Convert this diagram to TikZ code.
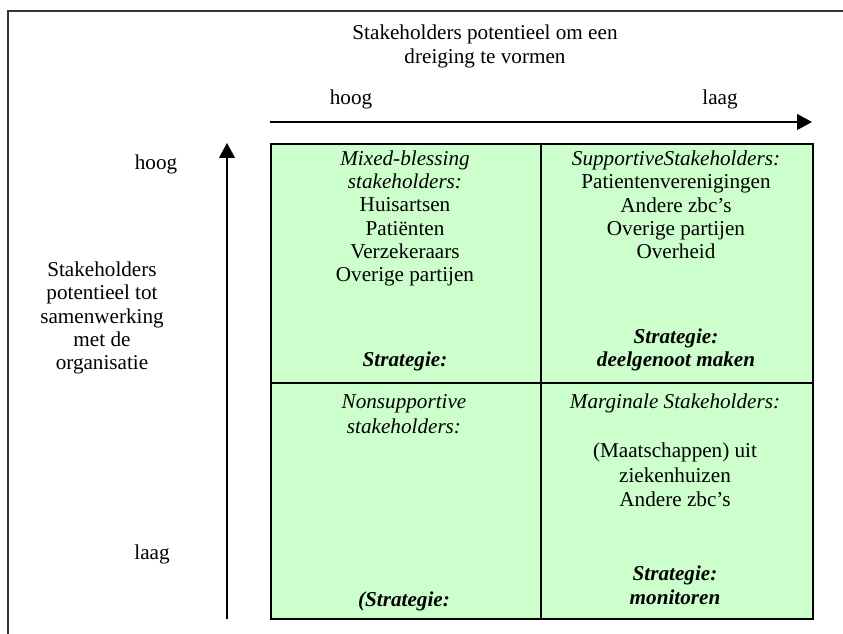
\documentclass[tikz,border=0pt]{standalone}
\usepackage{fontspec}
\setmainfont{Liberation Serif}
\usetikzlibrary{arrows.meta}
\begin{document}
\begin{tikzpicture}[x=0.6pt,y=-0.6pt,
  txt/.style={inner sep=0pt, align=center, anchor=base,
    font=\fontsize{12.7}{#1}\selectfont},
  txt/.default=14pt,
  cell/.style={draw=black, line width=1pt, fill=cellgreen, inner sep=0pt,
    anchor=north west},
  axis/.style={line width=1pt, -{Triangle[length=9pt,width=9.5pt]}},
  frameline/.style={line width=0.8pt, draw=black!80}]
\definecolor{cellgreen}{HTML}{CCFFCC}
\useasboundingbox (0,0) rectangle (843,634);
\fill[white] (0,0) rectangle (843,634);

% outer frame (top and left edges)
\coordinate (f1) at (8,634);
\coordinate (f2) at (8,11);
\coordinate (f3) at (843,11);
\draw[frameline] (f1) -- (f2) -- (f3);

% the four quadrants
\node[cell, minimum width=162pt,   minimum height=143.4pt] (tl) at (270,143) {};
\node[cell, minimum width=163.2pt, minimum height=143.4pt] (tr) at (540,143) {};
\node[cell, minimum width=162pt,   minimum height=141.6pt] (bl) at (270,382) {};
\node[cell, minimum width=163.2pt, minimum height=141.6pt] (br) at (540,382) {};

% axes
\coordinate (hs) at (270,122);
\coordinate (he) at (812,122);
\draw[axis] (hs) -- (he);
\coordinate (vs) at (227,619);
\coordinate (ve) at (227,143);
\draw[axis] (vs) -- (ve);

% axis titles (positions give the baseline of the last line)
\node[txt=14.4pt] (ttop) at (485,64) {Stakeholders potentieel om een\\dreiging te vormen};
\node[txt] (hhi) at (351,105) {hoog};
\node[txt] (hlo) at (720,105) {laag};
\node[txt] (vhi) at (156,170) {hoog};
\node[txt] (vlo) at (152,560) {laag};
\node[txt] (vtitle) at (102,370) {Stakeholders\\potentieel tot\\samenwerking\\met de\\organisatie};

% quadrant contents
\node[txt] (tltext) at (405,282) {\textit{Mixed-blessing}\\\textit{stakeholders:}\\Huisartsen\\Patiënten\\Verzekeraars\\Overige partijen};
\node[txt] (tlstrat) at (405,367) {\textbf{\textit{Strategie:}}};

\node[txt] (trtext) at (676,259) {\textit{SupportiveStakeholders:}\\Patientenverenigingen\\Andere zbc’s\\Overige partijen\\Overheid};
\node[txt] (trstrat) at (676,367) {\textbf{\textit{Strategie:}}\\\textbf{\textit{deelgenoot maken}}};

\node[txt=15pt] (bltext) at (404,434) {\textit{Nonsupportive}\\\textit{stakeholders:}};
\node[txt] (blstrat) at (404,607) {\textbf{\textit{(Strategie:}}};

\node[txt] (brhead) at (675,409) {\textit{Marginale Stakeholders:}};
\node[txt=14.7pt] (brtext) at (675,507) {(Maatschappen) uit\\ziekenhuizen\\Andere zbc’s};
\node[txt=14.4pt] (brstrat) at (675,605) {\textbf{\textit{Strategie:}}\\\textbf{\textit{monitoren}}};
\end{tikzpicture}
\end{document}
